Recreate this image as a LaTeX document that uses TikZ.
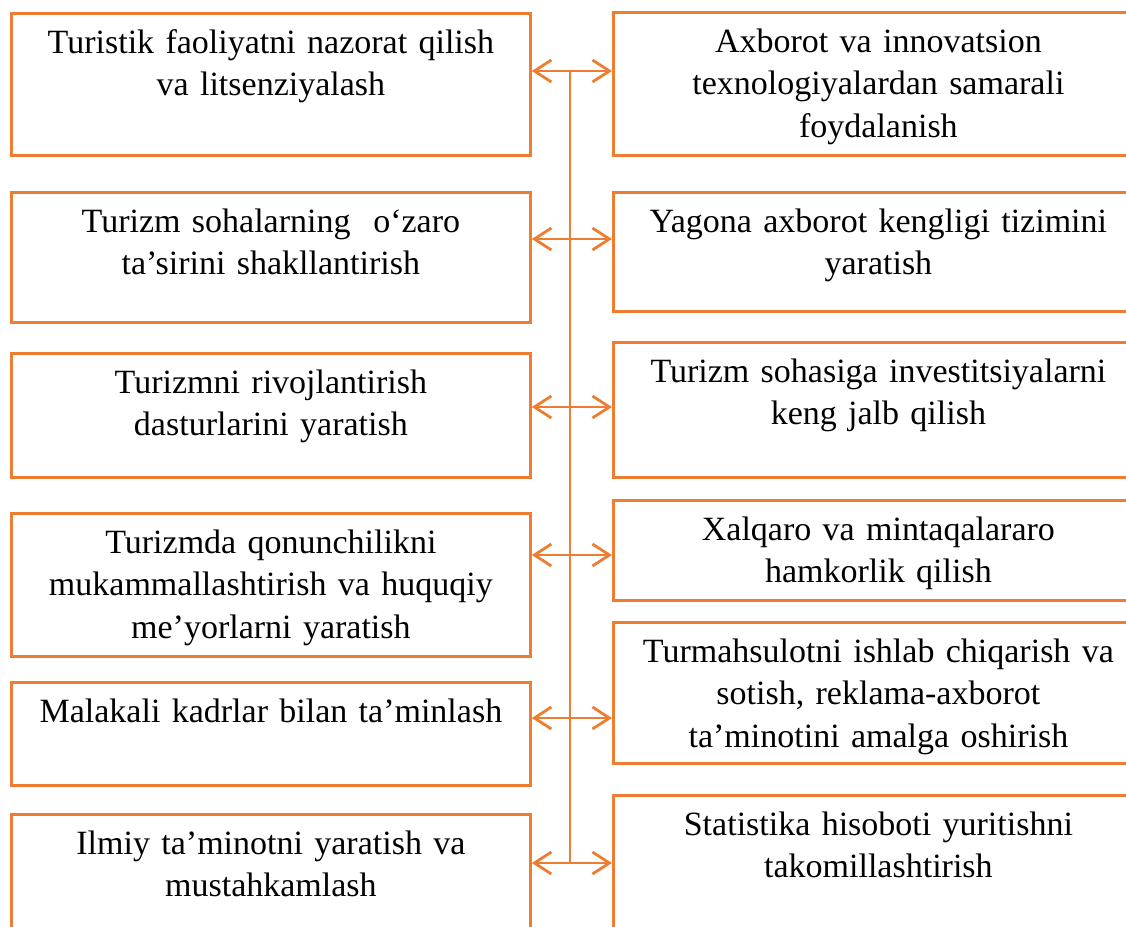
\documentclass[tikz,border=0pt]{standalone}
\usepackage{fontspec}
\setmainfont{Liberation Serif}
\usetikzlibrary{arrows.meta}

\definecolor{borange}{HTML}{ED7D31}

\tikzset{
  blok/.style={draw=borange, line width=2.8pt, anchor=north west, inner sep=0pt, minimum width=519},
  rblok/.style={blok, minimum width=530},
  matn/.style={anchor=base, inner sep=0pt, text width=515, align=center,
    font=\fontsize{34}{42.5}\selectfont},
  ikki/.style={draw=borange, line width=2.8pt,
    {Straight Barb[length=17pt,width=22pt]}-{Straight Barb[length=17pt,width=22pt]}},
}

\begin{document}
\begin{tikzpicture}[x=1pt,y=-1pt]

\useasboundingbox (0,0) rectangle (1126,926);
\clip (0,0) rectangle (1126,926);

% chap ustun
\node[blok, minimum height=142] (l1) at (10,12) {};
\node[blok, minimum height=130] (l2) at (10,191) {};
\node[blok, minimum height=124] (l3) at (10,352) {};
\node[blok, minimum height=143] (l4) at (10,512) {};
\node[blok, minimum height=103] (l5) at (10,681) {};
\node[blok, minimum height=150] (l6) at (10,813) {};

% o'ng ustun
\node[rblok, minimum height=143] (r1) at (612,11) {};
\node[rblok, minimum height=119] (r2) at (612,191) {};
\node[rblok, minimum height=135] (r3) at (612,341) {};
\node[rblok, minimum height=100] (r4) at (612,499) {};
\node[rblok, minimum height=141] (r5) at (612,621) {};
\node[rblok, minimum height=170] (r6) at (612,794) {};

\node[matn] (l1t) at ([yshift=-41pt]l1.north) {Turistik faoliyatni nazorat qilish\\ va litsenziyalash};
\node[matn] (l2t) at ([yshift=-41pt]l2.north) {Turizm sohalarning \ o‘zaro\\ ta’sirini shakllantirish};
\node[matn] (l3t) at ([yshift=-41pt]l3.north) {Turizmni rivojlantirish\\ dasturlarini yaratish};
\node[matn] (l4t) at ([yshift=-41pt]l4.north) {Turizmda qonunchilikni\\ mukammallashtirish va huquqiy\\ me’yorlarni yaratish};
\node[matn] (l5t) at ([yshift=-41pt]l5.north) {Malakali kadrlar bilan ta’minlash};
\node[matn] (l6t) at ([yshift=-41pt]l6.north) {Ilmiy ta’minotni yaratish va\\ mustahkamlash};

\node[matn] (r1t) at ([yshift=-41pt]r1.north) {Axborot va innovatsion\\ texnologiyalardan samarali\\ foydalanish};
\node[matn] (r2t) at ([yshift=-41pt]r2.north) {Yagona axborot kengligi tizimini\\ yaratish};
\node[matn] (r3t) at ([yshift=-41pt]r3.north) {Turizm sohasiga investitsiyalarni\\ keng jalb qilish};
\node[matn] (r4t) at ([yshift=-41pt]r4.north) {Xalqaro va mintaqalararo\\ hamkorlik qilish};
\node[matn] (r5t) at ([yshift=-41pt]r5.north) {Turmahsulotni ishlab chiqarish va\\ sotish, reklama-axborot\\ ta’minotini amalga oshirish};
\node[matn] (r6t) at ([yshift=-41pt]r6.north) {Statistika hisoboti yuritishni\\ takomillashtirish};

% markaziy chiziq
\coordinate (s1) at (570,71);
\coordinate (s2) at (570,239);
\coordinate (s3) at (570,407);
\coordinate (s4) at (570,555);
\coordinate (s5) at (570,718);
\coordinate (s6) at (570,863);

\draw[borange, line width=2.8pt] (s1) -- (s6);

\draw[ikki] (l1.east |- s1) -- (r1.west |- s1);
\draw[ikki] (l2.east |- s2) -- (r2.west |- s2);
\draw[ikki] (l3.east |- s3) -- (r3.west |- s3);
\draw[ikki] (l4.east |- s4) -- (r4.west |- s4);
\draw[ikki] (l5.east |- s5) -- (r5.west |- s5);
\draw[ikki] (l6.east |- s6) -- (r6.west |- s6);

\end{tikzpicture}
\end{document}
